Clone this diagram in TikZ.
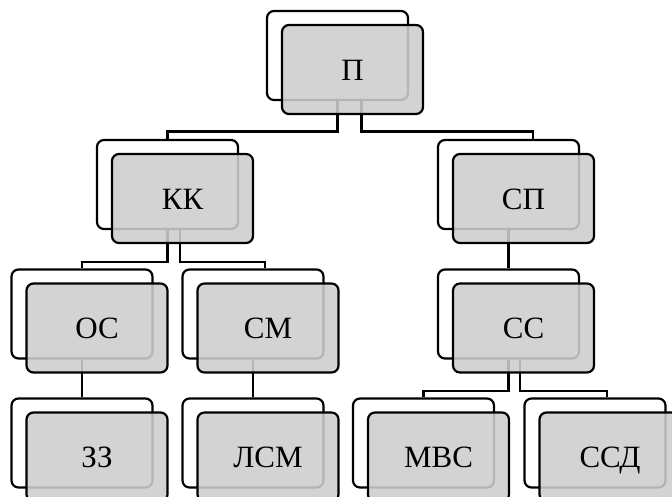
\documentclass[tikz,border=0pt]{standalone}
\usepackage{fontspec}
\setmainfont{Liberation Serif}
\usepackage{tikz}
\usetikzlibrary{positioning}
\definecolor{boxgray}{RGB}{205,205,205}

\begin{document}
\begin{tikzpicture}[x=1pt, y=-1pt,
	backbox/.style={draw, line width=2.2pt, rounded corners=7pt, fill=white, minimum width=141pt, minimum height=89pt, inner sep=0pt},
	frontbox/.style={backbox, fill=boxgray, fill opacity=0.88, text opacity=1, text height=21.5pt, text depth=0pt, font=\fontsize{31}{37}\selectfont},
	link/.style={line width=2.2pt}]
	\useasboundingbox (0,0) rectangle (672,497);
	\clip (0,0) rectangle (672,497);
	% back boxes
	\node[backbox] (pB) at (337.5,55.5) {};
	\node[backbox] (kB) at (167.5,184.5) {};
	\node[backbox] (sB) at (508.5,184.5) {};
	\node[backbox] (oB) at (82,314) {};
	\node[backbox] (cB) at (253,314) {};
	\node[backbox] (ssB) at (508.5,314) {};
	\node[backbox] (zB) at (82,443) {};
	\node[backbox] (lB) at (253,443) {};
	\node[backbox] (mB) at (423.5,443) {};
	\node[backbox] (dB) at (595,443) {};
	% connectors
	\draw[link] (pB.south) -- (pB.south |- 0,131.5) -| (kB.north);
	\draw[link] ([xshift=24pt]pB.south) -- ([xshift=24pt]pB.south |- 0,131.5) -| ([xshift=24.5pt]sB.north);
	\draw[link] (kB.south) -- (kB.south |- 0,262) -| (oB.north);
	\draw[link] ([xshift=12.5pt]kB.south) -- ([xshift=12.5pt]kB.south |- 0,262) -| ([xshift=12pt]cB.north);
	\draw[link] (ssB.south) -- (ssB.south |- 0,391) -| (mB.north);
	\draw[link] ([xshift=11.5pt]ssB.south) -- ([xshift=11.5pt]ssB.south |- 0,391) -| ([xshift=12pt]dB.north);
	\draw[link] (sB.south) -- (ssB.north);
	\draw[link] (oB.south) -- (zB.north);
	\draw[link] (cB.south) -- (lB.north);
	% front boxes
	\node[frontbox] (p) at ([shift={(15pt,-14pt)}]pB) {П};
	\node[frontbox] (k) at ([shift={(15pt,-14pt)}]kB) {КК};
	\node[frontbox] (s) at ([shift={(15pt,-14pt)}]sB) {СП};
	\node[frontbox] (o) at ([shift={(15pt,-14pt)}]oB) {ОС};
	\node[frontbox] (c) at ([shift={(15pt,-14pt)}]cB) {СМ};
	\node[frontbox] (ss) at ([shift={(15pt,-14pt)}]ssB) {СС};
	\node[frontbox] (z) at ([shift={(15pt,-14pt)}]zB) {ЗЗ};
	\node[frontbox] (l) at ([shift={(15pt,-14pt)}]lB) {ЛСМ};
	\node[frontbox] (m) at ([shift={(15pt,-14pt)}]mB) {МВС};
	\node[frontbox] (d) at ([shift={(15pt,-14pt)}]dB) {ССД};
\end{tikzpicture}
\end{document}
